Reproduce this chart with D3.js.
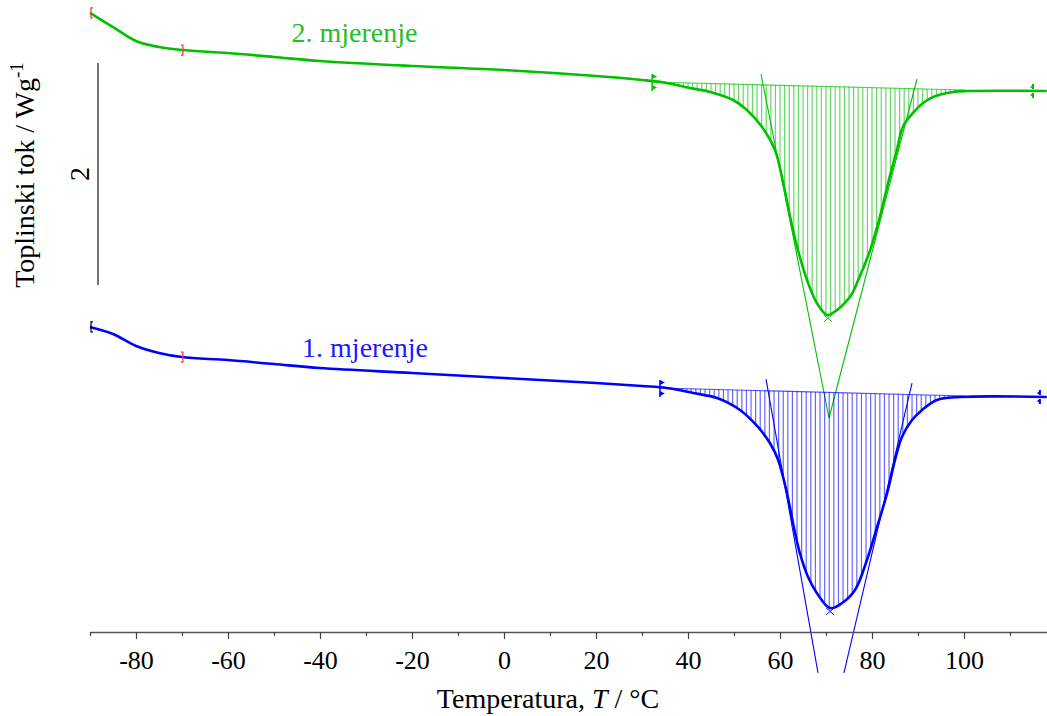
<!DOCTYPE html>
<html>
<head>
<meta charset="utf-8">
<script src="https://cdn.jsdelivr.net/npm/d3@7/dist/d3.min.js"></script>
<style>
html,body{margin:0;padding:0;background:#fff;}
svg{display:block;font-family:"Liberation Serif","Times New Roman",serif;}
</style>
</head>
<body>
<svg id="chart" width="1047" height="716"></svg>
<script>
// ---- Data (temperature in °C, heat flow in W/g with arbitrary vertical offsets) ----
const temp1 = [-90,-85,-80,-75,-70,-60,-50,-40,-20,0,20,30,35.4,41.1,46.3,51.3,55.2,57.8,59.6,61.5,63.0,64.3,66.1,68.0,70.9,73.5,76.3,78.9,81.1,83.3,85.0,86.5,88.7,90.9,94.1,99.1,118];
const flow1 = [2.748,2.685,2.577,2.514,2.477,2.450,2.414,2.378,2.333,2.288,2.243,2.216,2.198,2.153,2.108,2.000,1.847,1.703,1.550,1.252,0.946,0.712,0.495,0.351,0.215,0.261,0.378,0.649,0.946,1.252,1.550,1.757,1.910,2.000,2.090,2.117,2.117];

const temp2 = [-90,-85,-80,-75,-70,-60,-50,-40,-20,0,20,30,35.4,40.4,44.8,49.8,52.8,56.1,58.9,60.7,62.2,63.9,66.1,68.0,70.2,71.5,75.2,77.0,79.6,81.7,83.5,85.4,86.7,88.9,91.1,93.3,97.6,100.7,118];
const flow2 = [5.577,5.450,5.324,5.270,5.243,5.216,5.180,5.144,5.099,5.063,5.009,4.973,4.946,4.901,4.865,4.793,4.703,4.550,4.342,4.045,3.739,3.441,3.144,2.964,2.856,2.874,3.018,3.171,3.441,3.739,4.045,4.342,4.550,4.676,4.766,4.820,4.865,4.874,4.874];

// integration baselines [start, end]
const base1T = [33.9, 100.2], base1V = [2.198, 2.126];
const base2T = [32.2, 100.2], base2V = [4.955, 4.883];

// tangent lines: [T start, T end], [v start, v end]
const tan1LeftT = [56.96, 68.26], tan1LeftV = [2.279, -0.369];
const tan1RightT = [88.7, 73.9],  tan1RightV = [2.243, -0.369];
const tan2LeftT = [55.87, 70.65], tan2LeftV = [5.027, 1.928];
const tan2RightT = [89.78, 70.65], tan2RightV = [4.982, 1.928];

// peak markers
const peak1 = [70.9, 0.19], peak2 = [70.4, 2.83];
// range markers (T)
const rangeStart = -90, rangeMark = -69.8;
const end1T = 116.5, end2T = 115.0;

const majorTicks = [-80,-60,-40,-20,0,20,40,60,80,100];
const minorTicks = [-90,-70,-50,-30,-10,10,30,50,70,90,110];
const scaleBarFrom = 3.126, scaleBarLen = 2, scaleBarLabel = "2";

const labels = [
  {text: "2. mjerenje", T: -32.5, v: 5.315, color: "#22c022"},
  {text: "1. mjerenje", T: -30.2, v: 2.478, color: "#1a1aff"}
];

// ---- Scales ----
const svg = d3.select("#chart");
const x = d3.scaleLinear().domain([-90, 118.04]).range([90, 1047]);
const y = d3.scaleLinear().domain([0, 5.6937]).range([632, 0]);

const green = "#00c000", blue = "#0000ff";
const FONT = "Liberation Serif";

function series(T, V){ return T.map((t,i)=>[t, V[i]]); }
const line = d3.line().x(d=>x(d[0])).y(d=>y(d[1])).curve(d3.curveCatmullRom.alpha(0.5));
const interp = (T,V) => (t) => {
  for(let i=0;i<T.length-1;i++){ if(t>=T[i] && t<=T[i+1]){ const f=(t-T[i])/(T[i+1]-T[i]); return V[i]+f*(V[i+1]-V[i]); } }
  return V[V.length-1];
};

function drawPeak(T, V, bT, bV, tL, tLV, tR, tRV, pk, endT, color, startMarkerColor){
  const g = svg.append("g");
  const f = interp(T, V);
  const b = interp(bT, bV);
  // hatching
  d3.range(bT[0]+0.8, bT[1], 1.0).forEach(t=>{
    g.append("line").attr("x1", x(t)).attr("x2", x(t))
      .attr("y1", y(b(t))).attr("y2", y(f(t)))
      .attr("stroke", color).attr("stroke-width", 1.2).attr("stroke-opacity", 0.6);
  });
  // baseline
  g.append("line").attr("x1", x(bT[0])).attr("x2", x(bT[1]))
    .attr("y1", y(bV[0])).attr("y2", y(bV[1]))
    .attr("stroke", color).attr("stroke-width", 1.2).attr("stroke-opacity", 0.7);
  // tangents
  [[tL,tLV],[tR,tRV]].forEach(([tt,vv])=>{
    g.append("line").attr("x1", x(tt[0])).attr("x2", x(tt[1]))
      .attr("y1", y(vv[0])).attr("y2", y(vv[1]))
      .attr("stroke", color).attr("stroke-width", 1.1);
  });
  // main curve
  g.append("path").attr("d", line(series(T,V))).attr("fill","none")
    .attr("stroke", color).attr("stroke-width", 2.6).attr("stroke-linejoin","round");
  // peak cross
  const px = x(pk[0]), py = y(pk[1]);
  g.append("path").attr("d", `M${px-4},${py-3}L${px+4},${py+4}M${px+4},${py-3}L${px-4},${py+4}`)
    .attr("stroke", color).attr("stroke-width", 1);
  // area start marker (flag)
  const sx = x(bT[0]), sy = y(bV[0]);
  g.append("line").attr("x1", sx).attr("x2", sx).attr("y1", sy-8).attr("y2", sy+9)
    .attr("stroke", color).attr("stroke-width", 1.5);
  g.append("path").attr("d", `M${sx},${sy-8}L${sx+5},${sy-5.5}L${sx},${sy-3}Z M${sx},${sy+3}L${sx+5},${sy+5.5}L${sx},${sy+8}Z`)
    .attr("fill", color);
  // end marker
  const ex = x(endT), ey = y(f(endT));
  g.append("path").attr("d", `M${ex},${ey-7}L${ex},${ey-2}M${ex},${ey+2}L${ex},${ey+7}`)
    .attr("stroke", color).attr("stroke-width", 2);
  g.append("path").attr("d", `M${ex},${ey-6}L${ex-3},${ey-4}L${ex},${ey-2}Z M${ex},${ey+2}L${ex-3},${ey+4}L${ex},${ey+6}Z`)
    .attr("fill", color);
  // range bracket markers
  const bx = x(rangeStart), by = y(V[0]);
  g.append("path").attr("d", `M${bx+3},${by-5}L${bx+1},${by-5}L${bx+1},${by+5}L${bx+3},${by+5}`)
    .attr("fill","none").attr("stroke", startMarkerColor).attr("stroke-width", 1.2);
  const mx = x(rangeMark), my = y(f(rangeMark));
  g.append("path").attr("d", `M${mx-2},${my-5}L${mx},${my-5}L${mx},${my+5}L${mx-2},${my+5}`)
    .attr("fill","none").attr("stroke", "#ff3030").attr("stroke-width", 1.2);
}

drawPeak(temp2, flow2, base2T, base2V, tan2LeftT, tan2LeftV, tan2RightT, tan2RightV, peak2, end2T, green, "#ff3030");
drawPeak(temp1, flow1, base1T, base1V, tan1LeftT, tan1LeftV, tan1RightT, tan1RightV, peak1, end1T, blue, "#000");

// series labels
labels.forEach(l=>{
  svg.append("text").attr("x", x(l.T)).attr("y", y(l.v)).attr("text-anchor","middle")
    .attr("font-family", FONT).attr("font-size", 28).attr("fill", l.color).text(l.text);
});

// x axis
const axisY = y(0);
const gx = svg.append("g").attr("transform", `translate(0,${axisY})`);
gx.call(d3.axisBottom(x).tickValues(majorTicks).tickSize(7).tickSizeOuter(0).tickPadding(12).tickFormat(d=>String(d)));
gx.attr("font-family", FONT).attr("font-size", 26);
gx.select(".domain").attr("stroke", "#555").attr("stroke-width", 1.5);
gx.selectAll(".tick line").attr("stroke", "#444").attr("stroke-width", 1.2);
gx.selectAll(".tick text").attr("font-size", 26).attr("font-family", FONT).attr("fill", "#000");
const gm = svg.append("g").attr("transform", `translate(0,${axisY})`);
gm.call(d3.axisBottom(x).tickValues(minorTicks).tickSize(4).tickSizeOuter(0).tickFormat(""));
gm.select(".domain").remove();
gm.selectAll(".tick line").attr("stroke", "#444").attr("stroke-width", 1.2);

// x title
const xt = svg.append("text").attr("x", 548).attr("y", 708).attr("text-anchor","middle")
  .attr("font-family", FONT).attr("font-size", 28).attr("fill", "#000");
xt.append("tspan").text("Temperatura, ");
xt.append("tspan").attr("font-style","italic").text("T");
xt.append("tspan").text(" / °C");

// y title
const yt = svg.append("text").attr("transform", "translate(34,175) rotate(-90)")
  .attr("text-anchor","middle").attr("font-family", FONT).attr("font-size", 28).attr("fill", "#000");
yt.append("tspan").text("Toplinski tok / Wg");
yt.append("tspan").attr("font-size", 19).attr("dy", -11).text("-1");

// scale bar
const sbx = 98;
svg.append("line").attr("x1", sbx).attr("x2", sbx)
  .attr("y1", y(scaleBarFrom)).attr("y2", y(scaleBarFrom + scaleBarLen))
  .attr("stroke", "#444").attr("stroke-width", 1.5);
svg.append("text").attr("transform", `translate(89,${(y(scaleBarFrom)+y(scaleBarFrom+scaleBarLen))/2}) rotate(-90)`)
  .attr("text-anchor","middle").attr("font-family", FONT).attr("font-size", 28).attr("fill","#000").text(scaleBarLabel);
</script>
</body>
</html>
